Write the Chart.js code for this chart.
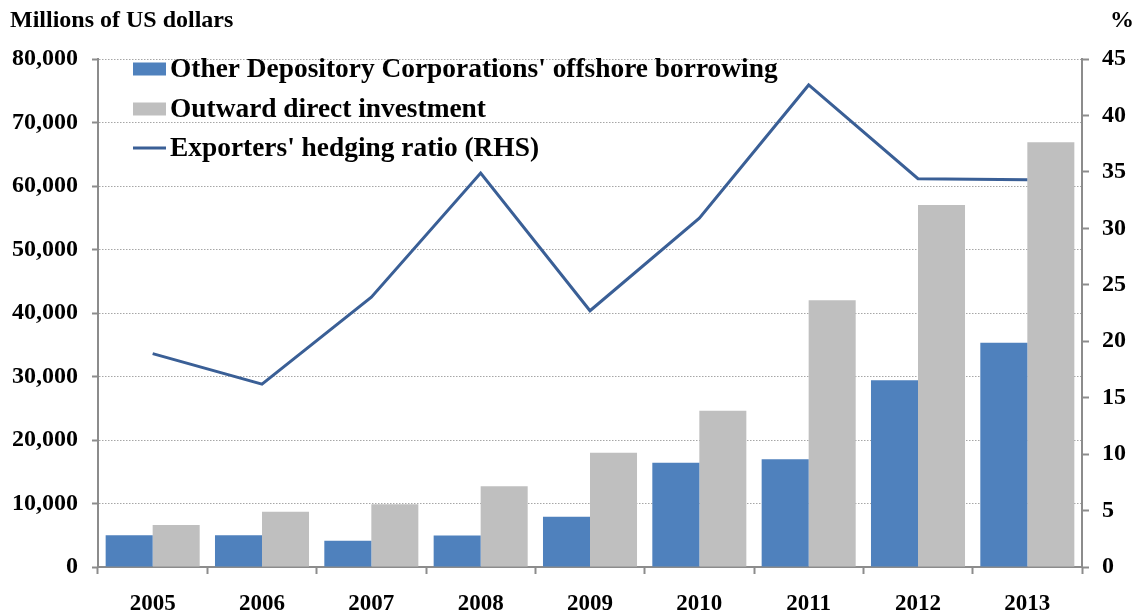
<!DOCTYPE html>
<html>
<head>
<meta charset="utf-8">
<script src="https://cdn.jsdelivr.net/npm/chart.js@4.4.1/dist/chart.umd.min.js"></script>
<style>
html,body{margin:0;padding:0;background:#fff;}
#wrap{width:1138px;height:615px;position:relative;}
</style>
</head>
<body>
<div id="wrap"><canvas id="c"></canvas></div>
<script>
const categories = ['2005','2006','2007','2008','2009','2010','2011','2012','2013'];
const odcBorrowing = [5000, 5000, 4150, 4950, 7900, 16400, 16950, 29400, 35300];
const outwardFDI = [6600, 8700, 9900, 12700, 18000, 24600, 42000, 57000, 66900];
const hedgingRatio = [18.9, 16.2, 23.9, 34.9, 22.7, 30.9, 42.7, 34.4, 34.3];
const leftTicks = [0, 10000, 20000, 30000, 40000, 50000, 60000, 70000, 80000];
const rightTicks = [0, 5, 10, 15, 20, 25, 30, 35, 40, 45];

const FONT = '"Liberation Serif", "Times New Roman", serif';
const BLUE = '#4f81bd', GRAY = '#bfbfbf', LINE = '#3a5f96', AXIS = '#8c8c8c';

const overlay = {
  id: 'overlay',
  afterDraw(chart) {
    const ctx = chart.ctx;
    ctx.save();
    ctx.fillStyle = '#000';
    ctx.font = 'bold 24px ' + FONT;
    ctx.textBaseline = 'alphabetic';
    ctx.textAlign = 'left';
    ctx.fillText('Millions of US dollars', 10, 27);
    ctx.textAlign = 'right';
    ctx.fillText('%', 1134, 27);
    // legend
    const x0 = chart.chartArea.left + 35;
    const rows = [69, 109, 148];
    ctx.textAlign = 'left';
    ctx.textBaseline = 'middle';
    ctx.font = 'bold 27.4px ' + FONT;
    chart.data.datasets.forEach((ds, i) => {
      const y = rows[i];
      if (ds.type === 'line') {
        ctx.strokeStyle = ds.borderColor;
        ctx.lineWidth = 3;
        ctx.beginPath();
        ctx.moveTo(x0, y);
        ctx.lineTo(x0 + 33, y);
        ctx.stroke();
      } else {
        ctx.fillStyle = ds.backgroundColor;
        ctx.fillRect(x0, y - 6.5, 33, 13);
      }
      ctx.fillStyle = '#000';
      ctx.fillText(ds.label, x0 + 37, y + 1);
    });
    ctx.restore();
  }
};

new Chart(document.getElementById('c'), {
  data: {
    labels: categories,
    datasets: [
      { type: 'bar', label: "Other Depository Corporations' offshore borrowing", data: odcBorrowing,
        backgroundColor: BLUE, yAxisID: 'y', order: 2, categoryPercentage: 0.86, barPercentage: 1 },
      { type: 'bar', label: 'Outward direct investment', data: outwardFDI,
        backgroundColor: GRAY, yAxisID: 'y', order: 2, categoryPercentage: 0.86, barPercentage: 1 },
      { type: 'line', label: "Exporters' hedging ratio (RHS)", data: hedgingRatio,
        borderColor: LINE, backgroundColor: LINE, borderWidth: 3, pointRadius: 0, tension: 0,
        yAxisID: 'y1', order: 1 }
    ]
  },
  options: {
    responsive: true,
    maintainAspectRatio: false,
    animation: false,
    layout: { padding: { top: 59, left: 0, right: 0, bottom: 0 } },
    plugins: { legend: { display: false }, tooltip: { enabled: false } },
    scales: {
      x: {
        offset: true,
        grid: { offset: true, drawOnChartArea: false, drawTicks: true, tickLength: 7, tickColor: AXIS, tickWidth: 2 },
        border: { display: true, color: AXIS, width: 2 },
        ticks: { color: '#000', font: { family: FONT, size: 23, weight: 'bold' }, padding: 16, maxRotation: 0 },
        afterFit(s) { s.height = 48; }
      },
      y: {
        position: 'left',
        min: 0, max: 80000,
        afterBuildTicks(s) { s.ticks = leftTicks.map(v => ({ value: v })); },
        grid: {
          color: c => (c.tick && c.tick.value === 0) ? 'rgba(0,0,0,0)' : '#a6a6a6',
          lineWidth: 1, drawTicks: true, tickLength: 6, tickColor: AXIS, tickWidth: 2, tickBorderDash: []
        },
        border: { display: true, color: AXIS, width: 2, dash: [1.5, 1.5] },
        ticks: { color: '#000', font: { family: FONT, size: 24, weight: 'bold' }, padding: 14,
          callback: v => v.toLocaleString('en-US') },
        afterFit(s) { s.width = 98; }
      },
      y1: {
        position: 'right',
        min: 0, max: 45,
        afterBuildTicks(s) { s.ticks = rightTicks.map(v => ({ value: v })); },
        grid: { drawOnChartArea: false, drawTicks: true, tickLength: 7, tickColor: AXIS, tickWidth: 2 },
        border: { display: true, color: AXIS, width: 2 },
        ticks: { color: '#000', font: { family: FONT, size: 24, weight: 'bold' }, padding: 13 },
        afterFit(s) { s.width = 56; }
      }
    }
  },
  plugins: [overlay]
});
</script>
</body>
</html>
